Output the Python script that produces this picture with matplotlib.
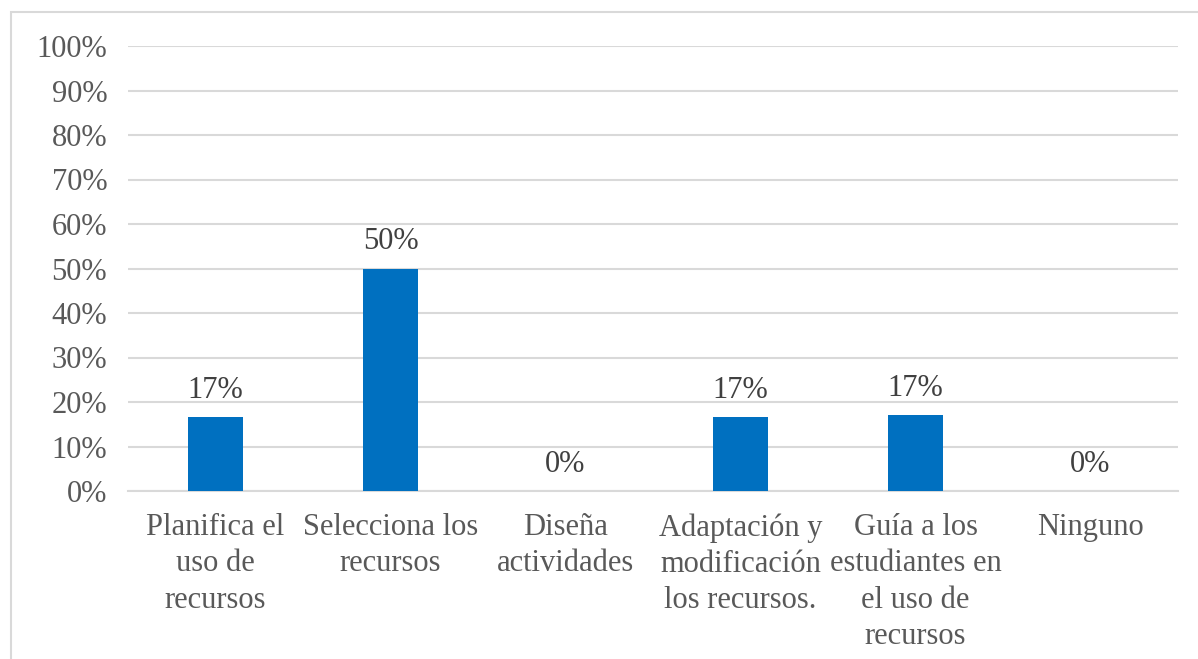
import numpy as np
import matplotlib.pyplot as plt
from matplotlib.patches import Rectangle

# Datos del grafico
categorias = ["Planifica el\nuso de\nrecursos", "Selecciona los\nrecursos", "Diseña\nactividades",
              "Adaptación y\nmodificación\nlos recursos.", "Guía a los\nestudiantes en\nel uso de\nrecursos", "Ninguno"]
valores = [16.67, 50.0, 0.0, 16.67, 17.0, 0.0]
etiquetas = ["17%", "50%", "0%", "17%", "17%", "0%"]
yticks = np.arange(0, 101, 10)

W, H = 1198, 659
plt.rcParams['font.family'] = ['Liberation Serif', 'DejaVu Serif']
gris_texto = "#595959"
gris_linea = "#D9D9D9"

fig = plt.figure(figsize=(W / 100, H / 100), dpi=100)

# Borde del area del grafico
fig.patches.append(Rectangle((11 / W, -0.1), 1.2, (H - 12) / H + 0.1, transform=fig.transFigure,
                             fill=False, edgecolor=gris_linea, linewidth=1.5))

ax = fig.add_axes([128 / W, (H - 491) / H, (1178 - 128) / W, (491 - 46) / H])
x = np.arange(len(categorias))
ax.bar(x, valores, width=0.31, color="#0070C0", zorder=3)

for xi, v, lab in zip(x, valores, etiquetas):
    ax.text(xi, v + 2.7, lab, ha="center", va="bottom", fontsize=22, color="#404040")

ax.set_xlim(-0.5, len(categorias) - 0.5)
ax.set_ylim(0, 100)
ax.set_yticks(yticks)
ax.set_yticklabels([str(t) + "%" for t in yticks], fontsize=22, color=gris_texto)
ax.set_xticks(x)
ax.set_xticklabels(categorias, fontsize=22, color=gris_texto, linespacing=1.33, va="top")
ax.tick_params(axis="both", length=0)
ax.tick_params(axis="y", pad=15)
ax.tick_params(axis="x", pad=16)
ax.grid(axis="y", color=gris_linea, linewidth=1.5, zorder=0)
for s in ["top", "right", "left"]:
    ax.spines[s].set_visible(False)
ax.spines["bottom"].set_color(gris_linea)
ax.spines["bottom"].set_linewidth(1.5)

fig.savefig("out.png", dpi=100)
